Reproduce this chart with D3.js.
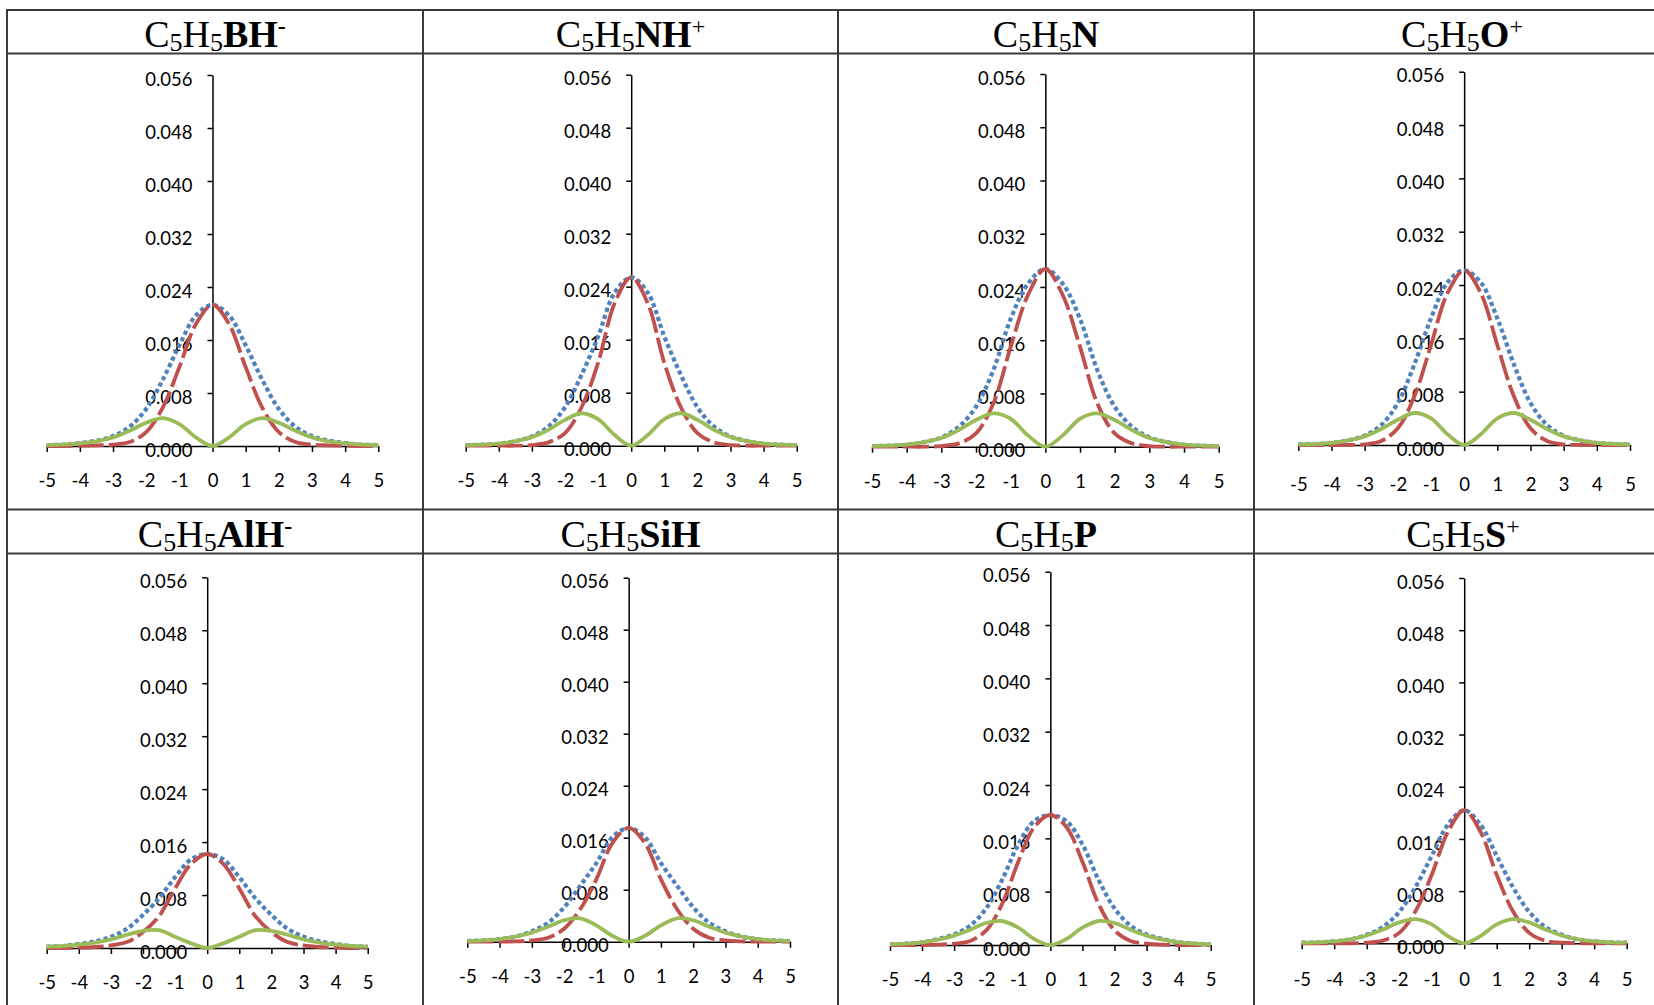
<!DOCTYPE html>
<html><head><meta charset="utf-8">
<script src="https://cdn.jsdelivr.net/npm/d3@7"></script>
<style>body{margin:0;background:#fff}svg{display:block}</style>
</head><body><svg id="c" width="1654" height="1005"></svg>
<script>
// ---------- data ----------
const xValues = [-5,-4.5,-4,-3.5,-3,-2.5,-2,-1.5,-1,-0.5,0,0.5,1,1.5,2,2.5,3,3.5,4,4.5,5];
const xTickValues = [-5,-4,-3,-2,-1,0,1,2,3,4,5];
const yTickValues = [0,0.008,0.016,0.024,0.032,0.040,0.048,0.056];
const molecules = ["BH","NH","N","O","AlH","SiH","P","S"];
const charges = ["-","+","","+","-","","","+"];

// red dashed series
const sigmaBH = [0,0,0.00005,0.0001,0.0002,0.0006,0.0021,0.0058,0.0119,0.0184,0.0213,0.0184,0.0119,0.0058,0.0021,0.0006,0.0002,0.0001,0.00005,0,0];
const sigmaNH = [0,0,0,0,0.0001,0.0005,0.0019,0.0058,0.0125,0.0215,0.0254,0.0215,0.0125,0.0058,0.0019,0.0005,0.0001,0,0,0,0];
const sigmaN  = [0,0,0,0,0.0001,0.0005,0.0020,0.0065,0.0150,0.0228,0.0267,0.0228,0.0150,0.0065,0.0020,0.0005,0.0001,0,0,0,0];
const sigmaO  = [0,0,0,0,0.0001,0.0006,0.0025,0.0073,0.0150,0.0228,0.0262,0.0228,0.0150,0.0073,0.0025,0.0006,0.0001,0,0,0,0];
const sigmaAl = [0,0,0.00005,0.00015,0.0004,0.0009,0.0024,0.0048,0.0090,0.0127,0.0142,0.0127,0.0090,0.0048,0.0024,0.0009,0.0004,0.00015,0.00005,0,0];
const sigmaSi = [0,0,0,0.00005,0.0002,0.0006,0.0020,0.0050,0.0096,0.0152,0.0175,0.0152,0.0096,0.0050,0.0020,0.0006,0.0002,0.00005,0,0,0];
const sigmaP  = [0,0,0,0.00005,0.0002,0.0006,0.0022,0.0062,0.0125,0.0177,0.0195,0.0177,0.0125,0.0062,0.0022,0.0006,0.0002,0.00005,0,0,0];
const sigmaS  = [0,0,0,0,0.0001,0.0004,0.0016,0.0049,0.0105,0.0171,0.0204,0.0171,0.0105,0.0049,0.0016,0.0004,0.0001,0,0,0,0];

// green solid series
const piBH = [0.00015,0.0002,0.0004,0.0007,0.0013,0.0023,0.0035,0.0042,0.0033,0.0013,0,0.0013,0.0033,0.0042,0.0035,0.0023,0.0013,0.0007,0.0004,0.0002,0.00015];
const piNH = [0.0001,0.00015,0.0003,0.0007,0.0013,0.0024,0.0039,0.0049,0.0040,0.0016,0,0.0016,0.0040,0.0049,0.0039,0.0024,0.0013,0.0007,0.0003,0.00015,0.0001];
const piN  = [0.0001,0.00015,0.0003,0.0007,0.0013,0.0025,0.0040,0.0050,0.0042,0.0017,0,0.0017,0.0042,0.0050,0.0040,0.0025,0.0013,0.0007,0.0003,0.00015,0.0001];
const piO  = [0.0001,0.00015,0.0003,0.0007,0.0013,0.0024,0.0038,0.0048,0.0040,0.0016,0,0.0016,0.0040,0.0048,0.0038,0.0024,0.0013,0.0007,0.0003,0.00015,0.0001];
const piAl = [0.0002,0.0003,0.0005,0.0008,0.0013,0.0020,0.0026,0.0027,0.0017,0.0007,0,0.0007,0.0017,0.0027,0.0026,0.0020,0.0013,0.0008,0.0005,0.0003,0.0002];
const piSi = [0.0001,0.0002,0.0004,0.0008,0.0014,0.0023,0.0033,0.0036,0.0025,0.0009,0,0.0009,0.0025,0.0036,0.0033,0.0023,0.0014,0.0008,0.0004,0.0002,0.0001];
const piP  = [0.0001,0.0002,0.0004,0.0008,0.0014,0.0023,0.0033,0.0036,0.0026,0.0009,0,0.0009,0.0026,0.0036,0.0033,0.0023,0.0014,0.0008,0.0004,0.0002,0.0001];
const piS  = [0.0001,0.00015,0.0003,0.0006,0.0012,0.0021,0.0032,0.0037,0.0029,0.0011,0,0.0011,0.0029,0.0037,0.0032,0.0021,0.0012,0.0006,0.0003,0.00015,0.0001];

// blue dotted series
const totalBH = [0.00015,0.0002,0.00045,0.0008,0.0015,0.0029,0.0056,0.0100,0.0152,0.0197,0.0213,0.0197,0.0152,0.0100,0.0056,0.0029,0.0015,0.0008,0.00045,0.0002,0.00015];
const totalNH = [0.0001,0.00015,0.0003,0.0007,0.0014,0.0029,0.0058,0.0107,0.0165,0.0231,0.0254,0.0231,0.0165,0.0107,0.0058,0.0029,0.0014,0.0007,0.0003,0.00015,0.0001];
const totalN  = [0.0001,0.00015,0.0003,0.0007,0.0014,0.0030,0.0060,0.0115,0.0192,0.0245,0.0267,0.0245,0.0192,0.0115,0.0060,0.0030,0.0014,0.0007,0.0003,0.00015,0.0001];
const totalO  = [0.0001,0.00015,0.0003,0.0007,0.0014,0.0030,0.0063,0.0121,0.0190,0.0244,0.0262,0.0244,0.0190,0.0121,0.0063,0.0030,0.0014,0.0007,0.0003,0.00015,0.0001];
const totalAl = [0.0002,0.0003,0.0006,0.0010,0.0017,0.0029,0.0050,0.0075,0.0107,0.0134,0.0142,0.0134,0.0107,0.0075,0.0050,0.0029,0.0017,0.0010,0.0006,0.0003,0.0002];
const totalSi = [0.0001,0.0002,0.0004,0.0008,0.0016,0.0029,0.0053,0.0086,0.0121,0.0161,0.0175,0.0161,0.0121,0.0086,0.0053,0.0029,0.0016,0.0008,0.0004,0.0002,0.0001];
const totalP  = [0.0001,0.0002,0.0004,0.0009,0.0016,0.0029,0.0055,0.0098,0.0151,0.0186,0.0195,0.0186,0.0151,0.0098,0.0055,0.0029,0.0016,0.0009,0.0004,0.0002,0.0001];
const totalS  = [0.0001,0.00015,0.0003,0.0006,0.0013,0.0025,0.0048,0.0086,0.0134,0.0182,0.0204,0.0182,0.0134,0.0086,0.0048,0.0025,0.0013,0.0006,0.0003,0.00015,0.0001];

const sigmaSeries = [sigmaBH, sigmaNH, sigmaN, sigmaO, sigmaAl, sigmaSi, sigmaP, sigmaS];
const piSeries    = [piBH, piNH, piN, piO, piAl, piSi, piP, piS];
const totalSeries = [totalBH, totalNH, totalN, totalO, totalAl, totalSi, totalP, totalS];

// ---------- layout ----------
const boxes = [
  {x0:46.7,  x1:378.3,  y0:446,   yTop:75,    lab:22, tx:215},
  {x0:465.7, x1:796.7,  y0:445.7, yTop:74.7,  lab:22, tx:630.5},
  {x0:872,   x1:1218.7, y0:446.7, yTop:74,    lab:22, tx:1046},
  {x0:1298.3,x1:1630,   y0:445,   yTop:71.7,  lab:27, tx:1462},
  {x0:46.7,  x1:367.7,  y0:948,   yTop:577.3, lab:22, tx:215},
  {x0:467.3, x1:790,    y0:941.7, yTop:577.7, lab:22, tx:630.5},
  {x0:890,   x1:1210.7, y0:945,   yTop:571.7, lab:22, tx:1046},
  {x0:1301.7,x1:1626.7, y0:943.3, yTop:578,   lab:24, tx:1463}
];
const titleBase = [46.7, 546.7];

const svg = d3.select("#c");
svg.append("rect").attr("width",1654).attr("height",1005).attr("fill","#fff");

// table grid
const g = svg.append("g").attr("stroke","#3a3a3a").attr("stroke-width",2);
[10,53.5,509.5,553.5].forEach(y=>g.append("line").attr("x1",6).attr("x2",1654).attr("y1",y).attr("y2",y));
[7,423,838,1254].forEach(x=>g.append("line").attr("x1",x).attr("x2",x).attr("y1",9).attr("y2",1005));

const labelFont = "Lato, 'Open Sans', sans-serif";

molecules.forEach((mol,i)=>{
  const b = boxes[i];
  const row = i < 4 ? 0 : 1;
  // title
  const t = svg.append("text").attr("x", b.tx).attr("y", titleBase[row])
    .attr("text-anchor","middle").attr("font-family","'Liberation Serif', 'Times New Roman', serif")
    .attr("font-size",38).attr("fill","#000");
  t.append("tspan").text("C");
  t.append("tspan").attr("font-size",26).attr("dy",4).text("5");
  t.append("tspan").attr("dy",-4).text("H");
  t.append("tspan").attr("font-size",26).attr("dy",4).text("5");
  t.append("tspan").attr("dy",-4).attr("font-weight","bold").text(mol);
  if (charges[i]) t.append("tspan").attr("font-size",24)
    .attr("font-weight", charges[i] === "-" ? "bold" : "normal")
    .attr("dy",-13).text(charges[i]);

  const xs = d3.scaleLinear().domain([-5,5]).range([b.x0,b.x1]);
  const ys = d3.scaleLinear().domain([0,0.056]).range([b.y0,b.yTop]);
  const p = svg.append("g");

  const yAxis = p.append("g").attr("transform",`translate(${xs(0)},0)`)
    .call(d3.axisLeft(ys).tickValues(yTickValues).tickFormat(d3.format(".3f"))
      .tickSize(5).tickSizeOuter(0).tickPadding(15));
  const xAxis = p.append("g").attr("transform",`translate(0,${ys(0)})`)
    .call(d3.axisBottom(xs).tickValues(xTickValues).tickFormat(d=>String(d))
      .tickSize(6).tickSizeOuter(0).tickPadding(b.lab));
  [yAxis,xAxis].forEach(a=>{
    a.selectAll("path,line").attr("stroke","#000").attr("stroke-width",1.5);
    a.selectAll("text").attr("font-family",labelFont).attr("font-size",18.5).attr("fill","#000");
  });
  yAxis.selectAll("text").attr("dy","0.55em");

  const line = d3.line().x((d,k)=>xs(xValues[k])).y(d=>ys(d)).curve(d3.curveCatmullRom.alpha(0.5));
  p.append("path").datum(totalSeries[i]).attr("d",line).attr("fill","none")
    .attr("stroke","#4f81bd").attr("stroke-width",4.2).attr("stroke-dasharray","4.2,3");
  p.append("path").datum(sigmaSeries[i]).attr("d",line).attr("fill","none")
    .attr("stroke","#c0504d").attr("stroke-width",3.8).attr("stroke-dasharray","26,5");
  p.append("path").datum(piSeries[i]).attr("d",line).attr("fill","none")
    .attr("stroke","#9bbb59").attr("stroke-width",3.8);
});
</script></body></html>
